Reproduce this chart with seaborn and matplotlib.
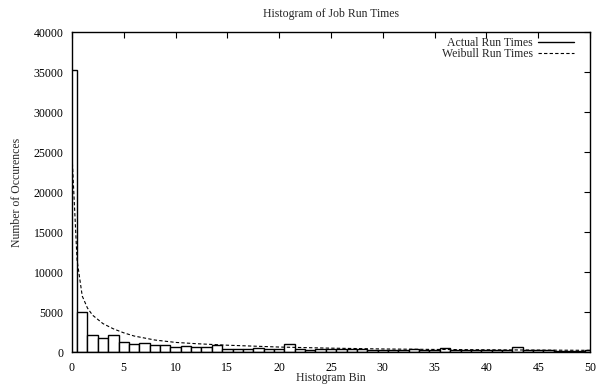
import numpy as np
import pandas as pd
import matplotlib
matplotlib.use("Agg")
import matplotlib.pyplot as plt
from matplotlib.lines import Line2D
import seaborn as sns

# Data
bins = list(range(0, 51))
counts = [35200, 4950, 2170, 1750, 2090, 1250, 1000, 1130, 875, 900,
          590, 690, 650, 580, 850, 380, 330, 420, 500, 400,
          420, 950, 380, 300, 320, 420, 330, 350, 420, 300,
          300, 280, 260, 330, 250, 300, 450, 280, 260, 240,
          250, 230, 200, 600, 250, 230, 200, 180, 180, 170, 200]
weibull_x = [0, 0.5, 1, 1.5, 2, 3, 4, 5, 6, 8, 10, 12, 15, 20, 25, 30, 35, 40, 45, 50]
weibull_y = [25000, 11500, 7000, 5500, 4600, 3550, 2900, 2400, 2000, 1500,
             1200, 1040, 850, 620, 480, 380, 320, 280, 240, 210]
title = "Histogram of Job Run Times"
xlabel = "Histogram Bin"
ylabel = "Number of Occurences"
labels = ["Actual Run Times", "Weibull Run Times"]

sns.set_style("white")
plt.rcParams['font.family'] = ['Liberation Serif', 'DejaVu Serif']
plt.rcParams['font.size'] = 8.5

fig = plt.figure(figsize=(6.04, 3.85), dpi=100)
ax = fig.add_axes([0.119, 0.0857, 0.858, 0.831])

hist_df = pd.DataFrame({"bin": bins, "count": counts})
sns.histplot(data=hist_df, x="bin", weights="count", discrete=True,
             element="bars", color="white", edgecolor="black", linewidth=1.0,
             alpha=1, ax=ax)

wb_df = pd.DataFrame({"x": weibull_x, "y": weibull_y})
sns.lineplot(data=wb_df, x="x", y="y", color="black", linewidth=0.8, ax=ax)
ax.lines[-1].set_dashes([3, 2])

ax.set_xlim(0, 50)
ax.set_ylim(0, 40000)
ax.set_xticks(range(0, 51, 5))
ax.set_yticks(range(0, 40001, 5000))
ax.tick_params(direction="in", length=4, width=0.8, top=True, right=True,
               labelsize=8.5, colors="black")
ax.tick_params(axis="x", pad=7)
ax.tick_params(axis="y", pad=6)
for s in ax.spines.values():
    s.set_color("black")
    s.set_linewidth(1.0)
    s.set_visible(True)

ax.set_xlabel(xlabel, fontsize=8.5, labelpad=-1)
ax.set_ylabel(ylabel, fontsize=8.5, labelpad=8)
ax.set_title(title, fontsize=8.5, pad=11)

handles = [Line2D([], [], color="black", lw=1.0),
           Line2D([], [], color="black", lw=0.8, dashes=[3, 2])]
leg = ax.legend(handles, labels, loc="upper right", frameon=False,
                markerfirst=False, fontsize=8.5, handlelength=3.05,
                handletextpad=0.45, labelspacing=-0.1, borderaxespad=0,
                borderpad=0, bbox_to_anchor=(0.969, 0.985))
for col in leg._legend_handle_box.get_children():
    col.align = "right"

fig.savefig("out.png", dpi=100)
